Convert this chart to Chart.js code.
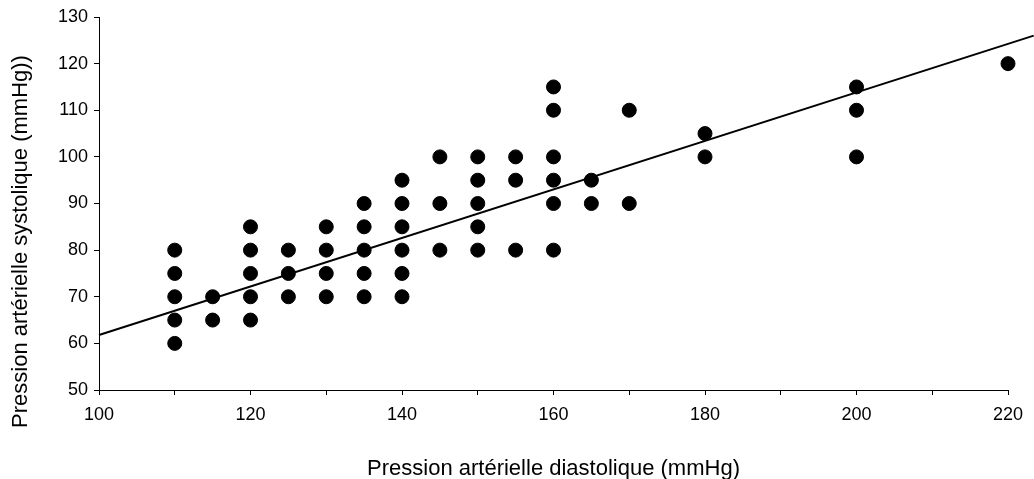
<!DOCTYPE html>
<html lang="fr">
<head>
<meta charset="utf-8">
<script src="https://cdn.jsdelivr.net/npm/chart.js@4/dist/chart.umd.min.js"></script>
<style>
    html, body { margin: 0; padding: 0; background: #fff; }
    #wrap { width: 1034px; height: 479px; position: relative; }
</style>
</head>
<body>
<div id="wrap"><canvas id="graphique"></canvas></div>
<script>
// pression diastolique (x) et valeurs systoliques observées pour chaque x
const diastolique = [110, 115, 120, 125, 130, 135, 140, 145, 150, 155, 160, 165, 170, 180, 200, 220];
const systolique = [
    [60, 65, 70, 75, 80],
    [65, 70],
    [65, 70, 75, 80, 85],
    [70, 75, 80],
    [70, 75, 80, 85],
    [70, 75, 80, 85, 90],
    [70, 75, 80, 85, 90, 95],
    [80, 90, 100],
    [80, 85, 90, 95, 100],
    [80, 95, 100],
    [80, 90, 95, 100, 110, 115],
    [90, 95],
    [90, 110],
    [100, 105],
    [100, 110, 115],
    [120]
];

// droite de régression (extrémités)
const droiteX = [100, 223.4];
const droiteY = [61.8, 126];

const yTicks = [50, 60, 70, 80, 90, 100, 110, 120, 130];
const xTicks = [100, 110, 120, 130, 140, 150, 160, 170, 180, 190, 200, 210, 220];

const titreX = 'Pression artérielle diastolique (mmHg)';
const titreY = 'Pression artérielle systolique (mmHg))';

const points = [];
diastolique.forEach((x, i) => {
    systolique[i].forEach(y => {
        points.push({ x: x, y: y });
    });
});

const droite = droiteX.map((x, i) => ({ x: x, y: droiteY[i] }));

const police = "'Liberation Sans', Arial, sans-serif";

// titre vertical centré sur la hauteur du canvas (comme dans l'original)
const titreVertical = {
    id: 'titreVertical',
    afterDraw(chart) {
        const ctx = chart.ctx;
        ctx.save();
        ctx.translate(21, chart.height / 2 + 2);
        ctx.rotate(-Math.PI / 2);
        ctx.fillStyle = '#000';
        ctx.font = '22px ' + police;
        ctx.textAlign = 'center';
        ctx.textBaseline = 'middle';
        ctx.fillText(titreY, 0, 0);
        ctx.restore();
    }
};

new Chart(
    document.getElementById('graphique'),
    {
        type: 'scatter',
        data: {
            datasets: [
                {
                    label: 'Mesures',
                    data: points,
                    backgroundColor: '#000',
                    borderColor: '#000',
                    pointRadius: 7,
                    pointHoverRadius: 7,
                    clip: false,
                    order: 1
                },
                {
                    type: 'line',
                    label: 'Régression',
                    data: droite,
                    borderColor: '#000',
                    borderWidth: 2,
                    pointRadius: 0,
                    fill: false,
                    clip: false,
                    order: 0
                }
            ]
        },
        options: {
            responsive: true,
            maintainAspectRatio: false,
            animation: false,
            layout: {
                padding: { top: 17, right: 26, bottom: 0, left: 6 }
            },
            plugins: {
                legend: { display: false },
                tooltip: { enabled: false }
            },
            scales: {
                x: {
                    type: 'linear',
                    min: 100,
                    max: 220,
                    afterBuildTicks: axis => {
                        axis.ticks = xTicks.map(v => ({ value: v }));
                    },
                    afterFit: axis => {
                        axis.height = 89;
                    },
                    ticks: {
                        color: '#000',
                        font: { family: police, size: 18 },
                        padding: 9,
                        maxRotation: 0,
                        autoSkip: false,
                        callback: v => (v % 20 === 0 ? v : '')
                    },
                    grid: {
                        display: true,
                        drawOnChartArea: false,
                        drawTicks: true,
                        tickLength: 5,
                        color: '#000'
                    },
                    border: { color: '#000', width: 1 },
                    title: {
                        display: true,
                        text: titreX,
                        color: '#000',
                        font: { family: police, size: 22 },
                        padding: { top: 0, bottom: -3 }
                    }
                },
                y: {
                    type: 'linear',
                    min: 50,
                    max: 130,
                    afterBuildTicks: axis => {
                        axis.ticks = yTicks.map(v => ({ value: v }));
                    },
                    afterFit: axis => {
                        axis.width = 93;
                    },
                    ticks: {
                        color: '#000',
                        font: { family: police, size: 18 },
                        padding: 6
                    },
                    grid: {
                        display: true,
                        drawOnChartArea: false,
                        drawTicks: true,
                        tickLength: 5,
                        color: '#000'
                    },
                    border: { color: '#000', width: 1 },
                    title: { display: false }
                }
            }
        },
        plugins: [titreVertical]
    }
);
</script>
</body>
</html>
